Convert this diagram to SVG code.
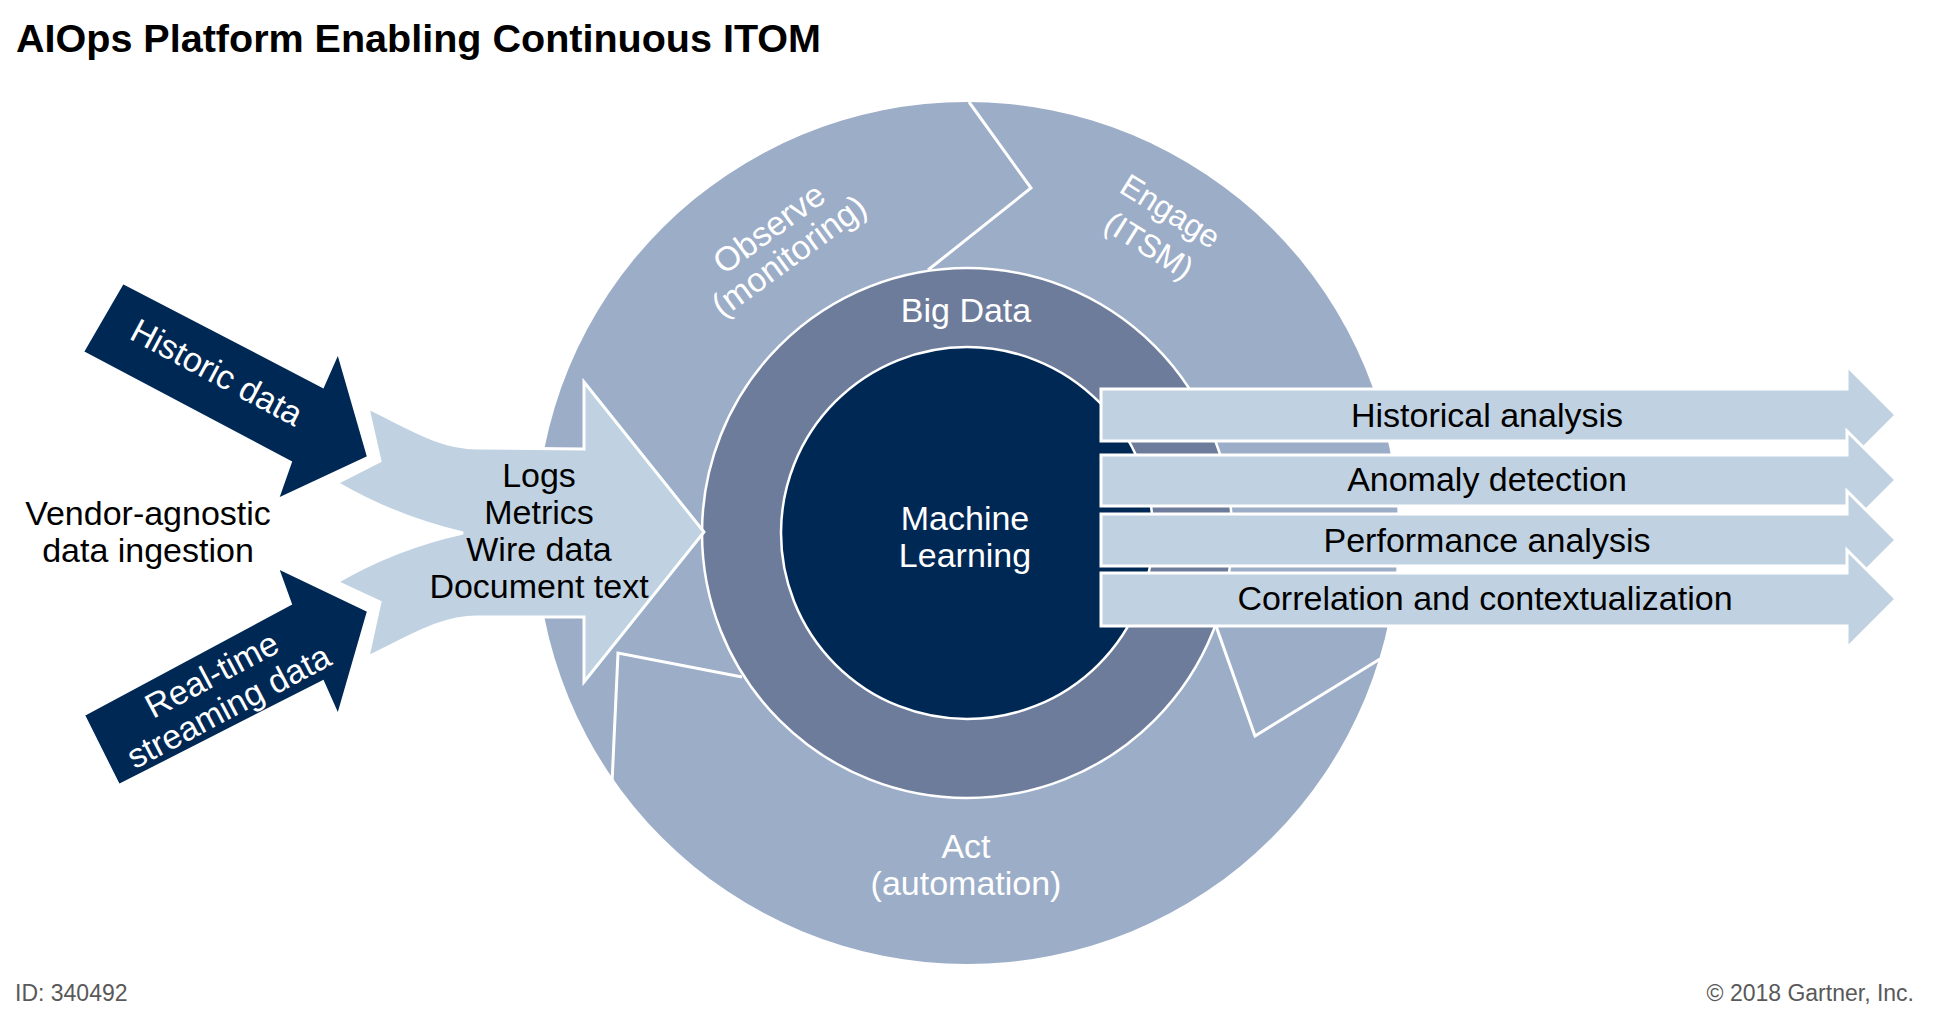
<svg xmlns="http://www.w3.org/2000/svg" width="1934" height="1017" viewBox="0 0 1934 1017">
<style>
.t{font-family:"Liberation Sans",Arial,Helvetica,sans-serif}
.lbl{font-size:34px;text-anchor:middle}
.w{fill:#ffffff}
.k{fill:#000000}
.div{fill:none;stroke:#ffffff;stroke-width:3;stroke-linejoin:miter}
.light{fill:#C0D2E1;stroke:#ffffff;stroke-width:3;stroke-linejoin:miter}
.dark{fill:#002855;stroke:#ffffff;stroke-width:2}
.foot{font-size:23px;fill:#595959}
</style>
<rect width="1934" height="1017" fill="#ffffff"/>
<g id="title">
<text class="t" x="16" y="52" font-size="38" font-weight="bold" textLength="805" lengthAdjust="spacingAndGlyphs">AIOps Platform Enabling Continuous ITOM</text>
</g>
<g id="operations-ring">
<circle cx="967" cy="533" r="431" fill="#9CADC8"/>
<polyline class="div" points="969,102 1031,188 928,270"/>
<polyline class="div" points="1216,626 1255,736 1380,659"/>
<polyline class="div" points="612,783 618,653 742,677"/>
</g>
<g id="observe">
<g transform="translate(781,245) rotate(-36)">
<text class="t lbl w" x="0" y="-9">Observe</text>
<text class="t lbl w" x="0" y="25">(monitoring)</text>
</g>
</g>
<g id="engage">
<g transform="translate(1158,231) rotate(32)">
<text class="t w" x="0" y="-12.5" font-size="32" text-anchor="middle">Engage</text>
<text class="t w" x="0" y="28" font-size="32" text-anchor="middle">(ITSM)</text>
</g>
</g>
<g id="act">
<text class="t lbl w" x="966" y="858">Act</text>
<text class="t lbl w" x="966" y="895">(automation)</text>
</g>
<g id="big-data">
<circle cx="967" cy="533" r="265" fill="#6E7C9B" stroke="#ffffff" stroke-width="2.5"/>
<text class="t lbl w" x="966" y="322">Big Data</text>
</g>
<g id="machine-learning">
<circle cx="967" cy="533" r="186" fill="#002855" stroke="#ffffff" stroke-width="2.5"/>
<text class="t lbl w" x="965" y="530">Machine</text>
<text class="t lbl w" x="965" y="567">Learning</text>
</g>
<g id="connectors">
<g id="data-types">
<path class="light" d="M584,382 L704,532 L584,682 L584,617 L477,617 C440,617 410,637 368,657 L380,602 L337,582 Q395,548 463,533 Q395,517 337,483 L380,461 L368,408 C410,428 440,448 477,448 L584,449 Z"/>
<text class="t lbl k" x="539" y="487">Logs</text>
<text class="t lbl k" x="539" y="524">Metrics</text>
<text class="t lbl k" x="539" y="561">Wire data</text>
<text class="t lbl k" x="539" y="598">Document text</text>
</g>
<g id="historic-data">
<polygon class="dark" points="123,283 323,387 338,353 368,457 278,499 291,462 83,352"/>
<text class="t lbl w" transform="translate(217,372) rotate(28)" x="0" y="12">Historic data</text>
</g>
<g id="realtime-data">
<polygon class="dark" points="119,785 84,715 291,604 278,568 368,611 338,715 323,681"/>
<g transform="translate(221,692) rotate(-28)">
<text class="t lbl w" x="0" y="-8">Real-time</text>
<text class="t lbl w" x="0" y="28">streaming data</text>
</g>
</g>
</g>
<g id="vendor-agnostic">
<text class="t lbl k" x="148" y="525">Vendor-agnostic</text>
<text class="t lbl k" x="148" y="562">data ingestion</text>
</g>
<g id="out-historical">
<polygon class="light" points="1101,389 1847,389 1847,366 1896,415 1847,464 1847,441 1101,441"/>
<text class="t lbl k" x="1487" y="427">Historical analysis</text>
</g>
<g id="out-anomaly">
<polygon class="light" points="1101,455 1847,455 1847,431 1896,480 1847,529 1847,506 1101,506"/>
<text class="t lbl k" x="1487" y="491">Anomaly detection</text>
</g>
<g id="out-performance">
<polygon class="light" points="1101,514 1847,514 1847,491 1896,540 1847,589 1847,566 1101,566"/>
<text class="t lbl k" x="1487" y="552">Performance analysis</text>
</g>
<g id="out-correlation">
<polygon class="light" points="1101,573 1847,573 1847,550 1896,599 1847,648 1847,626 1101,626"/>
<text class="t lbl k" x="1485" y="610">Correlation and contextualization</text>
</g>
<g id="footer">
<text class="t foot" x="15" y="1001">ID: 340492</text>
<text class="t foot" x="1914" y="1001" text-anchor="end">© 2018 Gartner, Inc.</text>
</g>
</svg>
